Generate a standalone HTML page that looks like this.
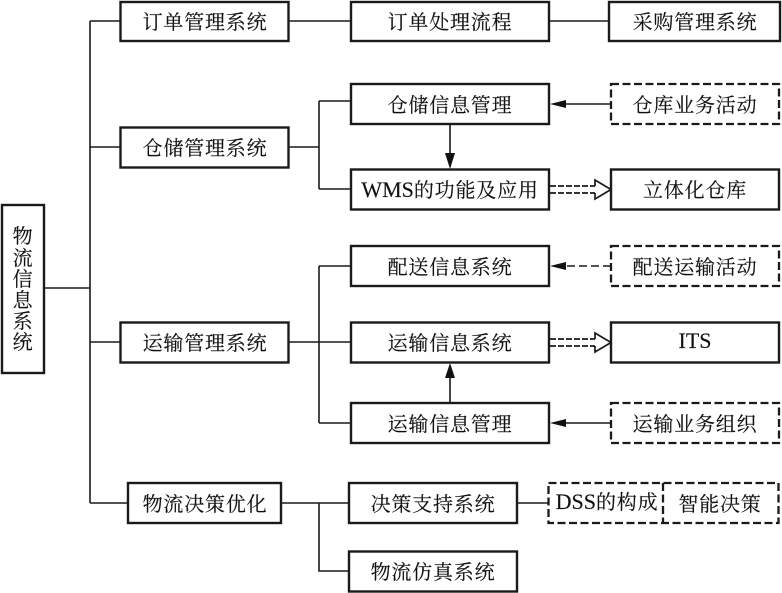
<!DOCTYPE html>
<html>
<head>
<meta charset="utf-8">
<style>
html,body{margin:0;padding:0;background:#fff;width:782px;height:593px;overflow:hidden}
svg{display:block}
text{font-family:"Liberation Serif","Noto Serif CJK SC",serif;font-size:20px;fill:#111;stroke:#111;stroke-width:.15;text-anchor:middle;letter-spacing:.8px;transform:translateY(1px)}
tspan.e{font-size:22px;letter-spacing:0}
.b{fill:#fff;stroke:#1a1a1a;stroke-width:2.400}
.d{fill:#fff;stroke:#1a1a1a;stroke-width:2.300;stroke-dasharray:8 3.500}
.l{fill:none;stroke:#1a1a1a;stroke-width:1.600}
.a{fill:#111;stroke:none}
.ds{fill:none;stroke:#1a1a1a;stroke-width:1.700;stroke-dasharray:6 2}
</style>
</head>
<body>
<svg width="782" height="593" viewBox="0 0 782 593" xmlns="http://www.w3.org/2000/svg">
<!-- connectors -->
<path class="l" d="M45 288H90M90 21V503M90 21H120M90 147H120M90 342H120M90 503H128"/>
<path class="l" d="M288 21H351M549 21H608"/>
<path class="l" d="M288 147H319M319 101V189M319 101H351M319 189H351"/>
<path class="l" d="M288 342H351M319 266V423M319 266H351M319 423H351"/>
<path class="l" d="M281 503H349M319 503V571H349M517 503H548"/>
<!-- arrows -->
<path class="l" d="M450 124V155"/><path class="a" d="M450 169L445 153H455Z"/>
<path class="l" d="M450 403V375"/><path class="a" d="M450 363L445 378H455Z"/>
<path class="l" d="M611 104H565"/><path class="a" d="M550 104L566 100V108Z"/>
<path class="l" d="M611 423H565"/><path class="a" d="M550 423L566 419V427Z"/>
<path class="l" d="M611 266H565" stroke-dasharray="8 4"/><path class="a" d="M550 266L566 262V270Z"/>
<path class="ds" d="M550 186H595M550 193H595"/>
<path d="M595 186V180L611 189.500L595 199V193" fill="#fff" stroke="#1a1a1a" stroke-width="1.700"/>
<path class="ds" d="M550 339H595M550 346H595"/>
<path d="M595 339V333L611 342.500L595 352V346" fill="#fff" stroke="#1a1a1a" stroke-width="1.700"/>
<!-- root -->
<rect class="b" x="2" y="205" width="42" height="168"/>
<text x="23" y="242">物</text>
<text x="23" y="264">流</text>
<text x="23" y="285">信</text>
<text x="23" y="306">息</text>
<text x="23" y="327">系</text>
<text x="23" y="348">统</text>
<!-- column 1 -->
<rect class="b" x="120.500" y="2" width="168" height="39"/><text x="205" y="28">订单管理系统</text>
<rect class="b" x="120.500" y="127.500" width="168" height="40"/><text x="205" y="154">仓储管理系统</text>
<rect class="b" x="120.500" y="322.500" width="168" height="40"/><text x="205" y="349">运输管理系统</text>
<rect class="b" x="128" y="483" width="153" height="40"/><text x="205" y="510">物流决策优化</text>
<!-- column 2 -->
<rect class="b" x="351" y="2" width="198" height="39"/><text x="450" y="28">订单处理流程</text>
<rect class="b" x="351" y="84" width="198" height="40"/><text x="450" y="111">仓储信息管理</text>
<rect class="b" x="351" y="169.500" width="198" height="40"/><text x="450" y="196"><tspan class="e">WMS</tspan>的功能及应用</text>
<rect class="b" x="351" y="246" width="198" height="40"/><text x="450" y="273">配送信息系统</text>
<rect class="b" x="351" y="322.500" width="198" height="40"/><text x="450" y="349">运输信息系统</text>
<rect class="b" x="351" y="403" width="198" height="40"/><text x="450" y="430">运输信息管理</text>
<rect class="b" x="349" y="483" width="168" height="40"/><text x="433" y="510">决策支持系统</text>
<rect class="b" x="349" y="551.500" width="168" height="40"/><text x="433" y="578">物流仿真系统</text>
<!-- column 3 -->
<rect class="b" x="609" y="2" width="171" height="39"/><text x="695" y="28">采购管理系统</text>
<rect class="d" x="611" y="84" width="168" height="40"/><text x="695" y="111">仓库业务活动</text>
<rect class="b" x="611" y="169.500" width="168" height="40"/><text x="695" y="196">立体化仓库</text>
<rect class="d" x="611" y="246" width="168" height="40"/><text x="695" y="273">配送运输活动</text>
<rect class="b" x="611" y="322.500" width="168" height="40"/><text x="695" y="347"><tspan class="e">ITS</tspan></text>
<rect class="d" x="611" y="403" width="168" height="40"/><text x="695" y="430">运输业务组织</text>
<rect class="d" x="548.500" y="483" width="230" height="40"/>
<path d="M663 483V523" fill="none" stroke="#1a1a1a" stroke-width="2.300" stroke-dasharray="8 3.500"/>
<text x="607" y="508"><tspan class="e">DSS</tspan>的构成</text>
<text x="720" y="510">智能决策</text>
</svg>
</body>
</html>
